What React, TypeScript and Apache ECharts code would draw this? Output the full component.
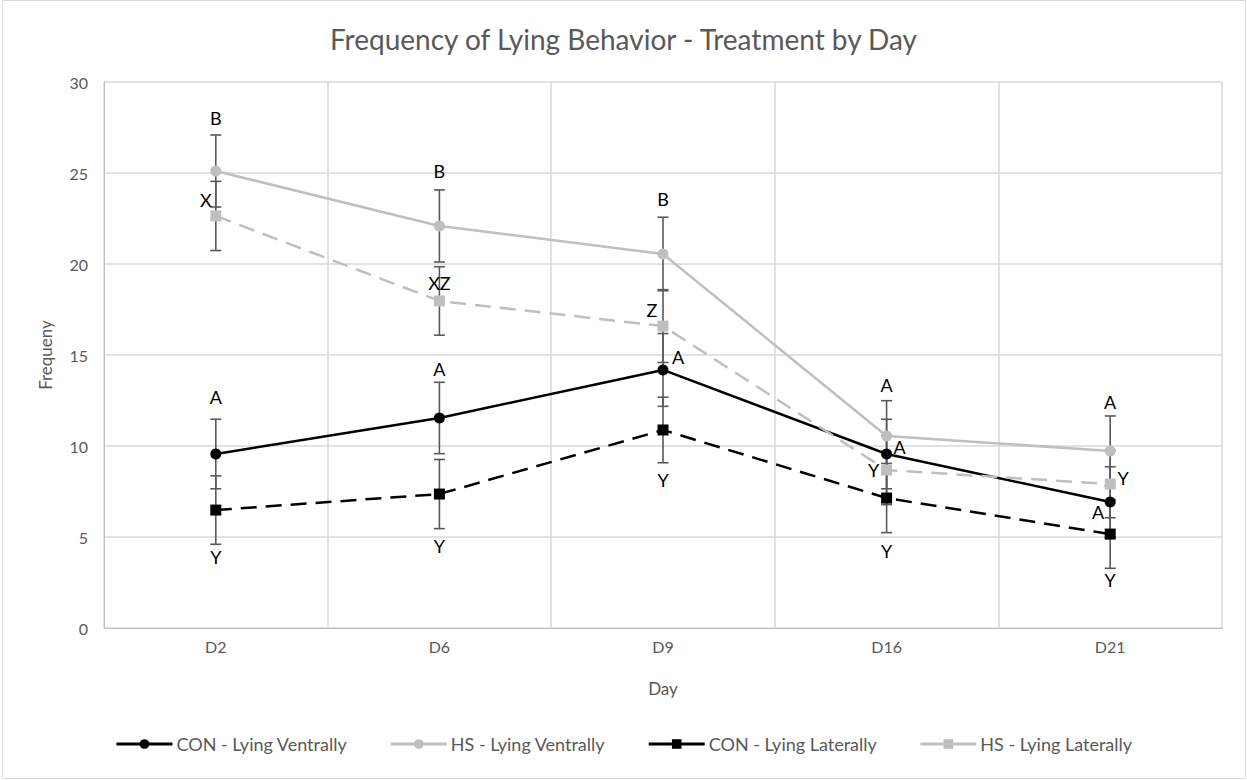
import React, { useEffect, useRef } from "react";
import * as echarts from "echarts";

const days = ["D2", "D6", "D9", "D16", "D21"];
const seriesNames = [
  "CON - Lying Ventrally",
  "HS - Lying Ventrally",
  "CON - Lying Laterally",
  "HS - Lying Laterally",
];
const conVentral = [9.56, 11.54, 14.18, 9.56, 6.92];
const hsVentral = [25.11, 22.09, 20.55, 10.55, 9.73];
const conLateral = [6.48, 7.36, 10.88, 7.14, 5.16];
const hsLateral = [22.64, 17.97, 16.59, 8.68, 7.91];

const conVentralErr = [1.91, 1.96, 2.0, 1.91, 1.94];
const hsVentralErr = [1.98, 1.98, 2.02, 1.94, 1.92];
const conLateralErr = [1.88, 1.9, 1.8, 1.9, 1.88];
const hsLateralErr = [1.9, 1.88, 2.0, 1.9, 1.85];

const conVentralLetters = ["A", "A", "A", "A", "A"];
const hsVentralLetters = ["B", "B", "B", "A", "A"];
const conLateralLetters = ["Y", "Y", "Y", "Y", "Y"];
const hsLateralLetters = ["X", "XZ", "Z", "Y", "Y"];

const yTicks = { min: 0, max: 30, interval: 5 };

// label offsets (style): [dx, dy] from point centre
const conVentralOff = [[0, -57], [0, -49], [15, -13], [13, -7], [-12, 10]];
const hsVentralOff = [[0, -53], [0, -55], [0, -55], [0, -51], [0, -49]];
const conLateralOff = [[0, 47], [0, 52], [0, 50], [0, 53], [0, 46]];
const hsLateralOff = [[-10, -16], [0, -18], [-11, -16], [-13, 0], [13, -6]];

const FONT = "Lato, 'Open Sans', sans-serif";
const AXIS_GREY = "#595959";
const LIGHT = "#BFBFBF";

function makeLine(
  name: string,
  values: number[],
  letters: string[],
  offs: number[][],
  color: string,
  dashed: boolean,
  symbol: string,
  symbolSize: number
) {
  return {
    name,
    type: "line",
    z: 3,
    data: values.map((v, i) => ({
      value: v,
      label: {
        show: true,
        position: "inside",
        offset: offs[i],
        formatter: letters[i],
        color: "#000",
        fontSize: 18,
        fontFamily: FONT,
      },
    })),
    symbol,
    symbolSize,
    showSymbol: true,
    itemStyle: { color },
    lineStyle: { color, width: 2.5, type: dashed ? [16, 9] : "solid" },
  };
}

function makeErr(values: number[], errs: number[]) {
  return {
    type: "custom",
    z: 2,
    silent: true,
    data: values.map((v, i) => [i, v - errs[i], v + errs[i]]),
    renderItem: (params: any, api: any) => {
      const x = api.value(0);
      const lo = api.coord([x, api.value(1)]);
      const hi = api.coord([x, api.value(2)]);
      const cap = 5.5;
      const style = { stroke: "#595959", lineWidth: 1.6 };
      return {
        type: "group",
        children: [
          { type: "line", shape: { x1: lo[0], y1: lo[1], x2: hi[0], y2: hi[1] }, style },
          { type: "line", shape: { x1: lo[0] - cap, y1: lo[1], x2: lo[0] + cap, y2: lo[1] }, style },
          { type: "line", shape: { x1: hi[0] - cap, y1: hi[1], x2: hi[0] + cap, y2: hi[1] }, style },
        ],
      };
    },
  };
}

export default function App() {
  const ref = useRef<HTMLDivElement>(null);
  useEffect(() => {
    if (!ref.current) return;
    const chart = echarts.init(ref.current, null, { renderer: "svg" });
    chart.setOption({
      animation: false,
      backgroundColor: "#fff",
      textStyle: { fontFamily: FONT },
      title: {
        text: "Frequency of Lying Behavior - Treatment by Day",
        left: "center",
        top: 20,
        textStyle: { color: AXIS_GREY, fontSize: 28, fontWeight: "normal", fontFamily: FONT },
      },
      graphic: [
        {
          type: "rect",
          shape: { x: 2.5, y: 0.5, width: 1243, height: 778 },
          style: { fill: "none", stroke: "#D9D9D9", lineWidth: 1 },
          silent: true,
        },
      ],
      legend: {
        bottom: 22,
        left: "center",
        itemWidth: 56,
        itemHeight: 12,
        itemGap: 42,
        data: seriesNames,
        textStyle: { color: AXIS_GREY, fontSize: 18, fontFamily: FONT, padding: [0, 0, 0, -1] },
        lineStyle: { type: "solid", width: 3 },
      },
      grid: { left: 104, right: 25, top: 82, bottom: 152, containLabel: false },
      xAxis: {
        type: "category",
        data: days,
        boundaryGap: true,
        name: "Day",
        nameLocation: "middle",
        nameGap: 52,
        nameTextStyle: { color: AXIS_GREY, fontSize: 17, fontFamily: FONT },
        axisLine: { lineStyle: { color: "#BFBFBF" } },
        axisTick: { show: false },
        axisLabel: { color: AXIS_GREY, fontSize: 16, margin: 10, fontFamily: FONT },
        splitLine: { show: true, lineStyle: { color: "#D9D9D9", width: 1.5 } },
      },
      yAxis: {
        type: "value",
        min: yTicks.min,
        max: yTicks.max,
        interval: yTicks.interval,
        name: "Frequeny",
        nameLocation: "middle",
        nameGap: 50,
        nameTextStyle: { color: AXIS_GREY, fontSize: 17, fontFamily: FONT },
        axisLine: { show: true, lineStyle: { color: "#BFBFBF" } },
        axisTick: { show: false },
        axisLabel: { color: AXIS_GREY, fontSize: 16, margin: 16, fontFamily: FONT },
        splitLine: { show: true, lineStyle: { color: "#D9D9D9", width: 1.5 } },
      },
      series: [
        makeErr(conVentral, conVentralErr),
        makeErr(hsVentral, hsVentralErr),
        makeErr(conLateral, conLateralErr),
        makeErr(hsLateral, hsLateralErr),
        makeLine(seriesNames[0], conVentral, conVentralLetters, conVentralOff, "#000", false, "circle", 11),
        makeLine(seriesNames[1], hsVentral, hsVentralLetters, hsVentralOff, LIGHT, false, "circle", 11),
        makeLine(seriesNames[2], conLateral, conLateralLetters, conLateralOff, "#000", true, "rect", 11),
        makeLine(seriesNames[3], hsLateral, hsLateralLetters, hsLateralOff, LIGHT, true, "rect", 11),
      ],
    });
    return () => chart.dispose();
  }, []);
  return (
    <div
      ref={ref}
      style={{ position: "absolute", left: 0, top: 0, width: 1247, height: 780 }}
    />
  );
}
